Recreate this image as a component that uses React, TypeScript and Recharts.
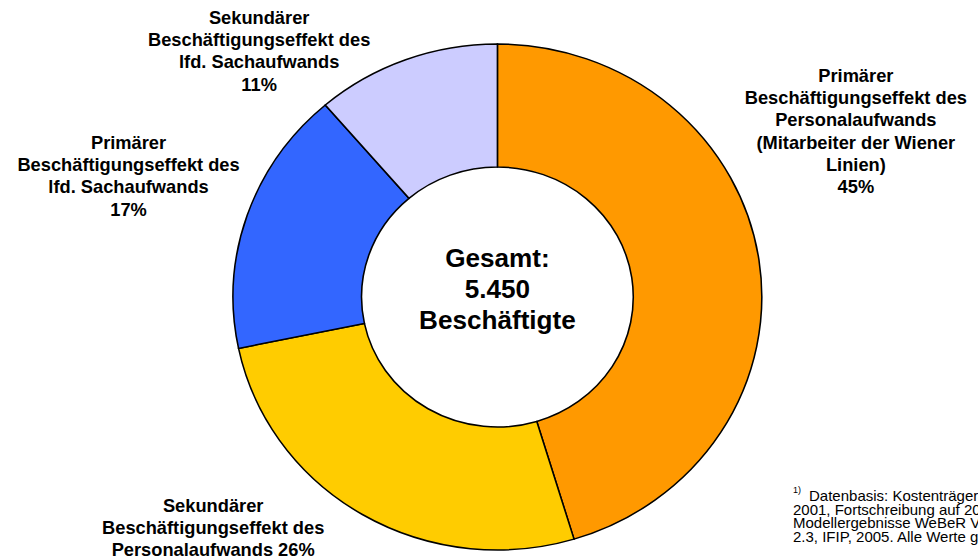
import { PieChart, Pie, Cell } from 'recharts';

// the source picture is stretched a little horizontally, so the chart is too
const STRETCH = 1.045;
const WIDTH = 978;
const HEIGHT = 556;
const FONT = '"Liberation Sans", Arial, Helvetica, sans-serif';

const categories = [
	'Primärer Beschäftigungseffekt des Personalaufwands',
	'Sekundärer Beschäftigungseffekt des Personalaufwands',
	'Primärer Beschäftigungseffekt des lfd. Sachaufwands',
	'Sekundärer Beschäftigungseffekt des lfd. Sachaufwands',
];
const employees = [2470, 1440, 925, 615];
const colors = ['#FF9900', '#FFCC00', '#3366FF', '#CCCCFF'];

const labelLines = [
	['Primärer', 'Beschäftigungseffekt des', 'Personalaufwands', '(Mitarbeiter der Wiener', 'Linien)'],
	['Sekundärer', 'Beschäftigungseffekt des', 'Personalaufwands'],
	['Primärer', 'Beschäftigungseffekt des', 'lfd. Sachaufwands'],
	['Sekundärer', 'Beschäftigungseffekt des', 'lfd. Sachaufwands'],
];
const percentOnOwnLine = [true, false, true, true];

const footnoteLines = [
	'Datenbasis: Kostenträgerrechnung',
	'2001, Fortschreibung auf 2005;',
	'Modellergebnisse WeBeR Version',
	'2.3, IFIP, 2005. Alle Werte gerundet.',
];

// label block position relative to the pie centre (first line)
const labelOffsets = [
	{ dx: 343, dy: -221 },
	{ dx: -272, dy: 209 },
	{ dx: -353, dy: -154 },
	{ dx: -228, dy: -279 },
];
const LABEL_LINE = 22.3;

const total = employees.reduce((a, b) => a + b, 0);
const data = categories.map((name, i) => ({ name, value: employees[i] }));

function formatDe(n: number) {
	return String(n).replace(/\B(?=(\d{3})+(?!\d))/g, '.');
}

function CenterText({ cx, cy }: { cx: number; cy: number }) {
	const lines = ['Gesamt:', formatDe(total), 'Beschäftigte'];
	return (
		<g>
			{lines.map((t, i) => (
				<text
					key={i}
					x={cx}
					y={cy - 39 + i * 31.3}
					textAnchor="middle"
					dominantBaseline="central"
					fontSize={25}
					fontWeight="bold"
					fontFamily={FONT}
					fill="#000"
				>
					{t}
				</text>
			))}
		</g>
	);
}

function SliceLabel(props: any) {
	const { cx, cy, index, percent } = props;
	const off = labelOffsets[index];
	const pct = Math.round(percent * 100) + '%';
	const base = labelLines[index];
	const lines = percentOnOwnLine[index]
		? [...base, pct]
		: [...base.slice(0, -1), base[base.length - 1] + ' ' + pct];
	return (
		<g>
			{index === 0 && <CenterText cx={cx} cy={cy} />}
			{lines.map((t, i) => (
				<text
					key={i}
					x={cx + off.dx}
					y={cy + off.dy + i * LABEL_LINE}
					textAnchor="middle"
					dominantBaseline="central"
					fontSize={17.5}
					fontWeight="bold"
					fontFamily={FONT}
					fill="#000"
				>
					{t}
				</text>
			))}
		</g>
	);
}

export default function App() {
	return (
		<div style={styles.page}>
			<div style={styles.stretch}>
				<PieChart width={Math.round(WIDTH / STRETCH)} height={HEIGHT} margin={{ top: 0, right: 0, bottom: 0, left: 0 }}>
					<Pie
						data={data}
						dataKey="value"
						nameKey="name"
						cx={476}
						cy={297}
						innerRadius={130}
						outerRadius={253}
						startAngle={90}
						endAngle={-270}
						stroke="#000"
						strokeWidth={1.5}
						label={SliceLabel}
						labelLine={false}
						isAnimationActive={false}
					>
						{data.map((d, i) => (
							<Cell key={d.name} fill={colors[i]} />
						))}
					</Pie>
				</PieChart>
			</div>
			<div style={styles.footnote}>
				{footnoteLines.map((t, i) => (
					<div key={i} style={styles.footLine}>
						{i === 0 && <span style={styles.sup}>1)</span>}
						{t}
					</div>
				))}
			</div>
		</div>
	);
}

const styles: Record<string, React.CSSProperties> = {
	page: {
		position: 'absolute',
		left: 0,
		top: 0,
		width: WIDTH,
		height: HEIGHT,
		overflow: 'hidden',
		background: '#fff',
		fontFamily: FONT,
	},
	stretch: {
		position: 'absolute',
		left: 0,
		top: 0,
		transform: `scaleX(${STRETCH})`,
		transformOrigin: '0 0',
	},
	footnote: {
		position: 'absolute',
		left: 793,
		top: 489,
		fontSize: 15,
		lineHeight: '13.6px',
		color: '#000',
	},
	footLine: {
		whiteSpace: 'nowrap',
	},
	sup: {
		display: 'inline-block',
		fontSize: 9,
		verticalAlign: 'top',
		lineHeight: '9px',
		marginTop: -3,
		marginRight: 8,
	},
};
